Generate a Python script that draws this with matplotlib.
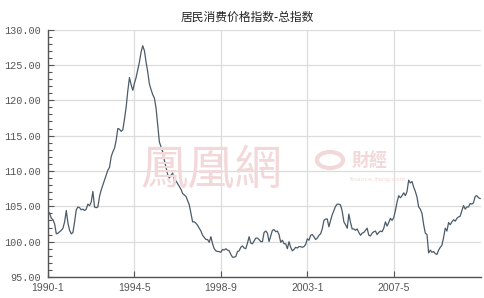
import matplotlib
matplotlib.use("Agg")
import matplotlib.pyplot as plt
import numpy as np

title = "居民消费价格指数-总指数"
start_year, start_month = 1990, 1

cpi_1990 = [104.3, 104.0, 103.3, 103.1, 102.5, 101.1, 101.2, 101.4, 101.6, 101.9, 102.8, 104.4]
cpi_1991 = [102.6, 101.6, 101.1, 101.3, 102.8, 104.5, 104.9, 104.8, 104.5, 104.6, 104.4, 104.6]
cpi_1992 = [105.3, 105.1, 105.6, 107.1, 104.9, 104.8, 104.9, 106.4, 107.3, 108.0, 108.7, 109.4]
cpi_1993 = [110.1, 110.5, 112.0, 112.7, 113.2, 114.3, 116.0, 115.9, 115.6, 115.8, 117.3, 119.0]
cpi_1994 = [121.3, 123.2, 122.2, 121.4, 122.4, 123.2, 124.3, 125.4, 126.8, 127.7, 127.0, 125.4]
cpi_1995 = [124.0, 122.3, 121.5, 120.8, 120.3, 118.9, 116.5, 114.1, 113.4, 112.7, 111.5, 110.5]
cpi_1996 = [109.5, 109.0, 109.4, 109.7, 108.7, 108.6, 108.2, 107.8, 107.4, 106.8, 106.6, 106.4]
cpi_1997 = [105.8, 105.2, 104.0, 102.8, 102.8, 102.6, 102.3, 101.9, 101.5, 100.9, 100.6, 100.3]
cpi_1998 = [100.3, 99.9, 100.7, 99.7, 99.0, 98.7, 98.6, 98.6, 98.5, 98.9, 98.8, 99.0]
cpi_1999 = [98.8, 98.7, 98.2, 97.8, 97.8, 97.9, 98.6, 98.7, 99.2, 99.4, 99.1, 99.0]
cpi_2000 = [99.8, 100.7, 99.8, 99.7, 100.1, 100.5, 100.5, 100.3, 100.0, 100.0, 101.3, 101.5]
cpi_2001 = [101.2, 100.0, 100.8, 101.6, 101.7, 101.4, 101.5, 101.0, 99.9, 100.2, 99.7, 99.7]
cpi_2002 = [99.0, 100.0, 99.2, 98.7, 98.9, 99.2, 99.1, 99.3, 99.3, 99.2, 99.3, 99.6]
cpi_2003 = [100.4, 100.2, 100.9, 101.0, 100.7, 100.3, 100.5, 100.9, 101.1, 101.8, 103.0, 103.2]
cpi_2004 = [103.2, 102.1, 103.0, 103.8, 104.4, 105.0, 105.3, 105.3, 105.2, 104.3, 102.8, 102.4]
cpi_2005 = [101.9, 103.9, 102.7, 101.8, 101.8, 101.6, 101.8, 101.3, 100.9, 101.2, 101.3, 101.6]
cpi_2006 = [101.9, 100.9, 100.8, 101.2, 101.4, 101.5, 101.0, 101.3, 101.5, 101.4, 101.9, 102.8]
cpi_2007 = [102.2, 102.7, 103.3, 103.0, 103.4, 104.4, 105.6, 106.5, 106.2, 106.5, 106.9, 106.5]
cpi_2008 = [107.1, 108.7, 108.3, 108.5, 107.7, 107.1, 106.3, 104.9, 104.6, 104.0, 102.4, 101.2]
cpi_2009 = [101.0, 98.4, 98.8, 98.5, 98.6, 98.3, 98.2, 98.8, 99.2, 99.5, 100.6, 101.9]
cpi_2010 = [101.5, 102.7, 102.4, 102.8, 103.1, 102.9, 103.3, 103.5, 103.6, 104.4, 105.1, 104.6]
cpi_2011 = [104.9, 104.9, 105.4, 105.3, 105.5, 106.4, 106.5, 106.2, 106.1]

x_tick_labels = ["1990-1", "1994-5", "1998-9", "2003-1", "2007-5"]
y_tick_values = [95, 100, 105, 110, 115, 120, 125, 130]

values = (cpi_1990 + cpi_1991 + cpi_1992 + cpi_1993 + cpi_1994 + cpi_1995 + cpi_1996
          + cpi_1997 + cpi_1998 + cpi_1999 + cpi_2000 + cpi_2001 + cpi_2002 + cpi_2003
          + cpi_2004 + cpi_2005 + cpi_2006 + cpi_2007 + cpi_2008 + cpi_2009 + cpi_2010 + cpi_2011)
x = np.arange(len(values))

def month_index(lbl):
    y, m = lbl.split("-")
    return (int(y) - start_year) * 12 + int(m) - start_month

W, H = 484, 298
fig = plt.figure(figsize=(W / 100, H / 100), dpi=100)
fig.patch.set_facecolor("white")
ax = fig.add_axes([48 / W, 1 - 277 / H, (481 - 48) / W, (277 - 29.5) / H])

# watermark
wm = "#f2d8d8"
fig.text(140 / W, 1 - 170 / H, "鳳凰網", fontsize=34, color=wm,
         family=["Noto Sans CJK TC", "DejaVu Sans"], va="center", ha="left", zorder=0)
circ = plt.Circle((330 / W, 1 - 160 / H), 13 / W, transform=fig.transFigure,
                  facecolor="none", edgecolor=wm, lw=3, zorder=0)
fig.add_artist(circ)
fig.text(352 / W, 1 - 161 / H, "財經", fontsize=13, color=wm, weight="bold",
         family=["Noto Sans CJK TC", "DejaVu Sans"], va="center", ha="left", zorder=0)
fig.text(350 / W, 1 - 180 / H, "finance.ifeng.com", fontsize=4.5, color=wm,
         family="DejaVu Sans", va="center", ha="left", zorder=0)
ax.set_facecolor("none")

ax.plot(x, values, color="#4b5b68", lw=0.9, zorder=3)

ax.set_xlim(0, 260.5)
ax.set_ylim(95, 130)
ax.set_yticks(y_tick_values)
ax.set_yticklabels([f"{v:.2f}" for v in y_tick_values], family="Liberation Mono",
                   fontsize=7.3, color="#555555")
ax.set_yticks(np.arange(95, 131, 1), minor=True)
ax.set_xticks([month_index(l) for l in x_tick_labels])
ax.set_xticklabels(x_tick_labels, family="Liberation Sans", fontsize=7.5, color="#555555")

ax.grid(True, which="major", color="#dcdcdc", lw=0.9, zorder=0)
ax.tick_params(axis="y", which="major", direction="in", length=4, width=0.8,
               color="#555555", pad=5)
ax.tick_params(axis="y", which="minor", direction="in", length=3, width=0.8, color="#555555")
ax.tick_params(axis="x", which="major", direction="in", length=4, width=0.8,
               color="#555555", pad=4)
for s in ["top", "right"]:
    ax.spines[s].set_visible(False)
for s in ["left", "bottom"]:
    ax.spines[s].set_color("#555555")
    ax.spines[s].set_linewidth(1.0)

fig.text(247 / W, 1 - 17.5 / H, title, fontsize=8.5, color="#222222", ha="center", va="center",
         family=["Noto Sans CJK SC", "DejaVu Sans"])

fig.savefig("out.png", dpi=100)
